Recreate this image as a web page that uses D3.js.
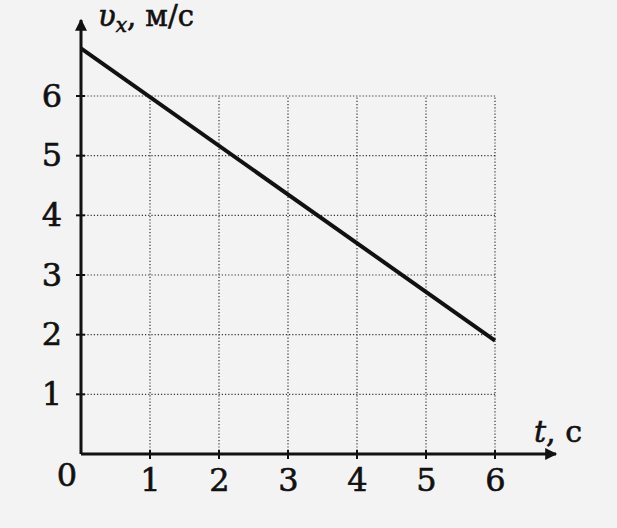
<!DOCTYPE html>
<html>
<head>
<meta charset="utf-8">
<script src="https://cdn.jsdelivr.net/npm/d3@7"></script>
<style>
  body { margin: 0; background: #f3f3f3; }
  svg { display: block; }
  text { font-family: "DejaVu Serif", "Liberation Serif", serif; fill: #111; stroke: #111; stroke-width: 0.6; }
</style>
</head>
<body>
<script>
const w = 617;
const h = 528;

// data
const times = [0, 6];
const speeds = [6.8, 1.9];
const xTicks = [1, 2, 3, 4, 5, 6];
const yTicks = [1, 2, 3, 4, 5, 6];

const x = d3.scaleLinear().domain([0, 6]).range([81, 495]);
const y = d3.scaleLinear().domain([0, 6]).range([454, 96]);

const svg = d3.select("body").append("svg")
  .attr("width", w)
  .attr("height", h);

svg.append("rect").attr("width", w).attr("height", h).attr("fill", "#f3f3f3");

// dotted grid
const grid = svg.append("g").attr("class", "grid");
grid.selectAll("line.v")
  .data(xTicks)
  .enter().append("line")
  .attr("x1", d => x(d)).attr("x2", d => x(d))
  .attr("y1", y(0)).attr("y2", y(6))
  .attr("stroke", "#333").attr("stroke-width", 1.2)
  .attr("stroke-dasharray", "1.2,2");
grid.selectAll("line.h")
  .data(yTicks)
  .enter().append("line")
  .attr("x1", x(0)).attr("x2", x(6))
  .attr("y1", d => y(d)).attr("y2", d => y(d))
  .attr("stroke", "#333").attr("stroke-width", 1.2)
  .attr("stroke-dasharray", "1.2,2");

// axes with arrows
const defs = svg.append("defs");
defs.append("marker")
  .attr("id", "arrow")
  .attr("viewBox", "0 0 10 10")
  .attr("refX", 9).attr("refY", 5)
  .attr("markerWidth", 5).attr("markerHeight", 4)
  .attr("orient", "auto")
  .append("path").attr("d", "M0,0 L10,5 L0,10 Z").attr("fill", "#111");

svg.append("line")
  .attr("x1", x(0)).attr("y1", y(0))
  .attr("x2", 556).attr("y2", y(0))
  .attr("stroke", "#111").attr("stroke-width", 3)
  .attr("marker-end", "url(#arrow)");
svg.append("line")
  .attr("x1", x(0)).attr("y1", y(0))
  .attr("x2", x(0)).attr("y2", 20)
  .attr("stroke", "#111").attr("stroke-width", 3)
  .attr("marker-end", "url(#arrow)");

const xAxis = d3.axisBottom(x).tickValues(xTicks).tickFormat(d3.format("d")).tickSize(0).tickPadding(14);
const gx = svg.append("g")
  .attr("transform", `translate(0,${y(0)})`)
  .call(xAxis);
gx.select(".domain").remove();
gx.selectAll("text").attr("font-size", 32).attr("fill", "#111");

const yAxis = d3.axisLeft(y).tickValues(yTicks).tickFormat(d3.format("d")).tickSize(0).tickPadding(19);
const gy = svg.append("g")
  .attr("transform", `translate(${x(0)},0)`)
  .call(yAxis);
gy.select(".domain").remove();
gy.selectAll("text").attr("font-size", 32).attr("fill", "#111");

// short tick marks crossing the axes
svg.selectAll("line.xt")
  .data(xTicks)
  .enter().append("line")
  .attr("x1", d => x(d)).attr("x2", d => x(d))
  .attr("y1", y(0) - 4).attr("y2", y(0) + 5)
  .attr("stroke", "#111").attr("stroke-width", 2);
svg.selectAll("line.yt")
  .data(yTicks)
  .enter().append("line")
  .attr("x1", x(0) - 5).attr("x2", x(0) + 4)
  .attr("y1", d => y(d)).attr("y2", d => y(d))
  .attr("stroke", "#111").attr("stroke-width", 2);

svg.append("text")
  .attr("x", 67).attr("y", 486)
  .attr("text-anchor", "middle")
  .attr("font-size", 32)
  .text("0");

// the velocity line
const line = d3.line()
  .x((d, i) => x(times[i]))
  .y(d => y(d));
svg.append("path")
  .datum(speeds)
  .attr("d", line)
  .attr("fill", "none")
  .attr("stroke", "#111")
  .attr("stroke-width", 4);

// axis titles
const yt = svg.append("text").attr("x", 98).attr("y", 26).attr("font-size", 29);
yt.append("tspan").attr("font-style", "italic").text("υ");
yt.append("tspan").attr("font-style", "italic").attr("font-size", 20).attr("dy", 6).text("x");
yt.append("tspan").attr("dy", -6).text(", м/с");

const xt = svg.append("text").attr("x", 534).attr("y", 442).attr("font-size", 30);
xt.append("tspan").attr("font-style", "italic").text("t");
xt.append("tspan").text(", с");
</script>
</body>
</html>
